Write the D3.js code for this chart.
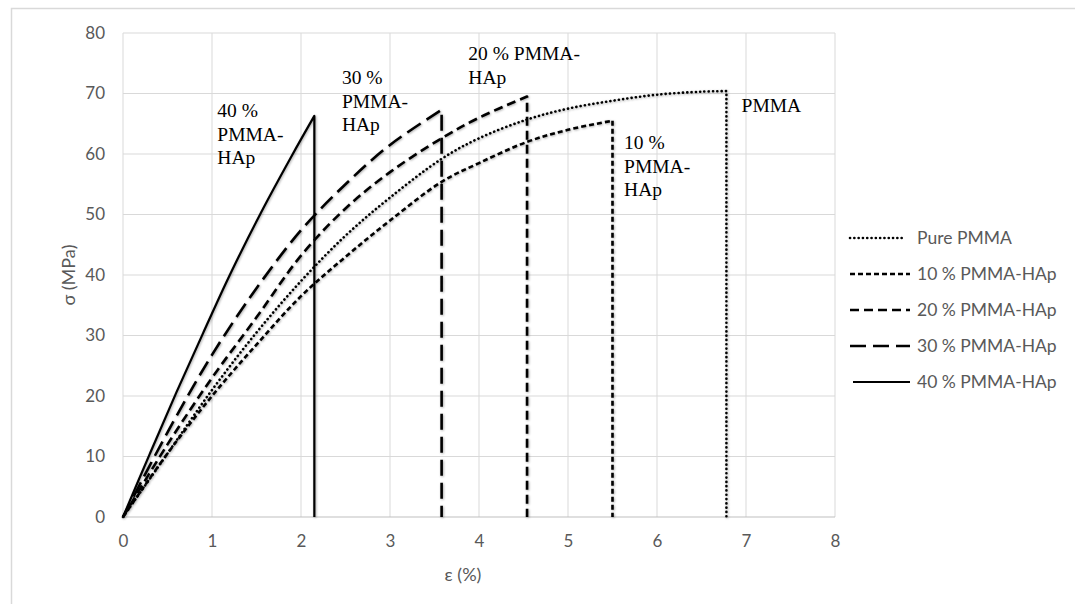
<!DOCTYPE html>
<html>
<head>
<meta charset="utf-8">
<script src="https://cdn.jsdelivr.net/npm/d3@7"></script>
<style>
  body { margin: 0; background: #fff; }
  svg { display: block; }
</style>
</head>
<body>
<script>
var width = 1075;
var height = 604;

// strain (%) / stress (MPa)
var purePMMA = [[0, 0], [0.5, 10.5], [1, 21], [1.5, 30.5], [2, 39], [2.5, 46.5], [3, 52.8], [3.58, 59.2], [4, 62.6], [4.54, 65.7], [5, 67.5], [5.5, 68.8], [6, 69.8], [6.5, 70.3], [6.78, 70.4]];
var hap10 = [[0, 0], [0.5, 10.5], [1, 20], [1.5, 28.5], [2, 36.5], [2.5, 43], [3, 49], [3.58, 55.4], [4, 58.5], [4.54, 62], [5, 64], [5.5, 65.5]];
var hap20 = [[0, 0], [0.5, 12], [1, 23], [1.5, 33], [2, 43.2], [2.5, 51], [3, 57], [3.58, 62.6], [4, 66], [4.54, 69.5]];
var hap30 = [[0, 0], [0.5, 14], [1, 26.8], [1.5, 37.8], [2, 47.4], [2.5, 55], [3, 61.5], [3.58, 67.3]];
var hap40 = [[0, 0], [0.3, 10.4], [0.6, 20.6], [0.9, 30.4], [1.2, 40], [1.55, 50.3], [1.9, 59.8], [2.15, 66.3]];

var seriesNames = ["Pure PMMA", "10 % PMMA-HAp", "20 % PMMA-HAp", "30 % PMMA-HAp", "40 % PMMA-HAp"];
var seriesData = [purePMMA, hap10, hap20, hap30, hap40];
var seriesDash = ["0.1 4.2", "5 3", "9 5", "16 7", null];
var seriesWidth = [2.6, 2.6, 2.6, 2.6, 2.2];

var xTicks = [0, 1, 2, 3, 4, 5, 6, 7, 8];
var yTicks = [0, 10, 20, 30, 40, 50, 60, 70, 80];

// in-plot labels (text lines, anchor in data units)
var noteLines = [["40 %", "PMMA-", "HAp"], ["30 %", "PMMA-", "HAp"], ["20 % PMMA-", "HAp"], ["PMMA"], ["10 %", "PMMA-", "HAp"]];
var noteAt = [[1.06, 66.1], [2.46, 71.5], [3.88, 75.5], [6.95, 66.9], [5.63, 60.8]];

var margin = {left: 123, top: 33, right: 240, bottom: 87};

var x = d3.scaleLinear().domain([0, 8]).range([margin.left, width - margin.right]);
var y = d3.scaleLinear().domain([0, 80]).range([height - margin.bottom, margin.top]);

var svg = d3.select("body").append("svg")
  .attr("width", width).attr("height", height);

// soft shadow under the curves
var filt = svg.append("defs").append("filter")
  .attr("id", "shadow").attr("x", "-20%").attr("y", "-20%").attr("width", "140%").attr("height", "140%");
filt.append("feDropShadow")
  .attr("dx", 0.8).attr("dy", 0.8).attr("stdDeviation", 1.2)
  .attr("flood-color", "#000").attr("flood-opacity", 0.35);

// outer chart frame (top + left only)
svg.append("path")
  .attr("d", "M11.5," + height + "V8.5H" + width)
  .style("fill", "none").style("stroke", "#d9d9d9").style("stroke-width", 1.5);

// grid
var grid = svg.append("g");
grid.selectAll("line.v").data(xTicks).enter().append("line")
  .attr("x1", function (d) { return x(d); }).attr("x2", function (d) { return x(d); })
  .attr("y1", y(0)).attr("y2", y(80))
  .style("stroke", "#d9d9d9").style("stroke-width", 1);
grid.selectAll("line.h").data(yTicks).enter().append("line")
  .attr("x1", x(0)).attr("x2", x(8))
  .attr("y1", function (d) { return y(d); }).attr("y2", function (d) { return y(d); })
  .style("stroke", function (d) { return d === 0 ? "#bfbfbf" : "#d9d9d9"; })
  .style("stroke-width", 1);

// axes: labels only, Excel style
var xAxis = svg.append("g")
  .attr("transform", "translate(0," + y(0) + ")")
  .call(d3.axisBottom(x).tickValues(xTicks).tickSize(0).tickPadding(18));
var yAxis = svg.append("g")
  .attr("transform", "translate(" + x(0) + ",0)")
  .call(d3.axisLeft(y).tickValues(yTicks).tickSize(0).tickPadding(18));
[xAxis, yAxis].forEach(function (a) {
  a.select(".domain").remove();
  a.selectAll("text")
    .style("font-family", "Lato, 'Open Sans', sans-serif")
    .style("font-size", "17px")
    .style("fill", "#595959");
});

svg.append("text")
  .attr("x", 463).attr("y", 581)
  .attr("text-anchor", "middle")
  .style("font-family", "Lato, 'Open Sans', sans-serif").style("font-size", "18px").style("fill", "#595959")
  .text("ε (%)");
svg.append("text")
  .attr("transform", "translate(75," + ((y(0) + y(80)) / 2) + ") rotate(-90)")
  .attr("text-anchor", "middle")
  .style("font-family", "Lato, 'Open Sans', sans-serif").style("font-size", "18px").style("fill", "#595959")
  .text("σ (MPa)");

// curves, each ending with a drop to zero at break strain
var line = d3.line()
  .x(function (d) { return x(d[0]); })
  .y(function (d) { return y(d[1]); })
  .curve(d3.curveCatmullRom);

var curves = svg.append("g").attr("filter", "url(#shadow)");
seriesData.forEach(function (pts, i) {
  var last = pts[pts.length - 1];
  curves.append("path")
    .attr("d", line(pts) + "L" + x(last[0]) + "," + y(0))
    .style("fill", "none")
    .style("stroke", "#000")
    .style("stroke-width", seriesWidth[i])
    .style("stroke-linecap", i === 0 ? "round" : "butt")
    .style("stroke-linejoin", "round")
    .style("stroke-dasharray", seriesDash[i]);
});

// annotations
noteLines.forEach(function (lines, i) {
  var t = svg.append("text")
    .attr("x", x(noteAt[i][0])).attr("y", y(noteAt[i][1]))
    .style("font-family", "'Liberation Serif', 'Times New Roman', serif")
    .style("font-size", "19.5px").style("fill", "#000");
  lines.forEach(function (s, k) {
    t.append("tspan").attr("x", x(noteAt[i][0])).attr("dy", k === 0 ? 0 : 23.5).text(s);
  });
});

// legend
var legend = svg.append("g").attr("transform", "translate(850,238)");
var item = legend.selectAll("g").data(seriesNames).enter().append("g")
  .attr("transform", function (d, i) { return "translate(0," + (i * 36) + ")"; });
item.append("line")
  .attr("x1", function (d, i) { return i === 4 ? 3 : 0; })
  .attr("x2", function (d, i) { return i === 0 ? 55 : 60; })
  .attr("y1", 0).attr("y2", 0)
  .style("stroke", "#000")
  .style("stroke-width", function (d, i) { return seriesWidth[i]; })
  .style("stroke-linecap", function (d, i) { return i === 0 ? "round" : "butt"; })
  .style("stroke-dasharray", function (d, i) { return seriesDash[i]; });
item.append("text")
  .attr("x", 67).attr("y", 6)
  .style("font-family", "Lato, 'Open Sans', sans-serif").style("font-size", "17.5px").style("fill", "#595959")
  .text(function (d) { return d; });
</script>
</body>
</html>
